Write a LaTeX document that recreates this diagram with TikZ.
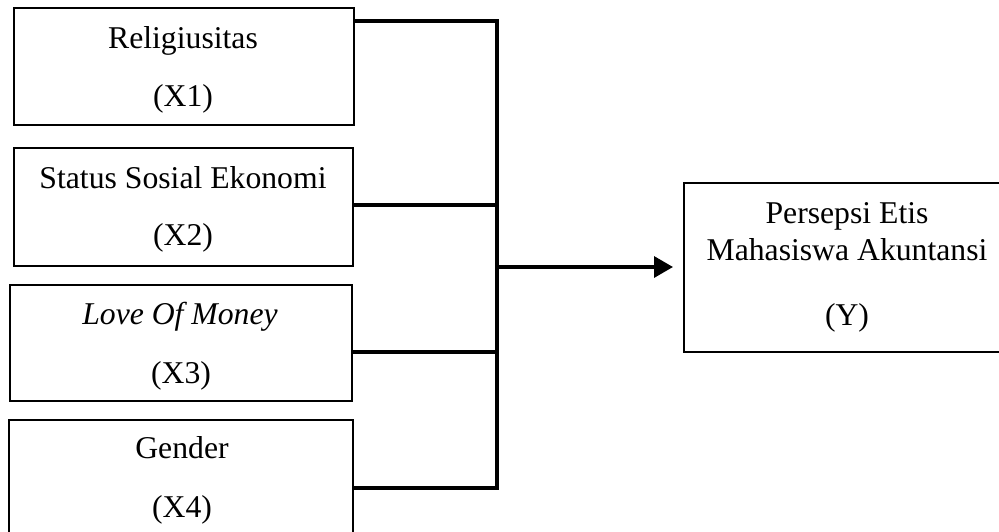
\documentclass[tikz,border=0pt]{standalone}
\usepackage{fontspec}
\setmainfont{Liberation Serif}
\usetikzlibrary{arrows.meta}
\begin{document}
\begin{tikzpicture}[x=1pt,y=-1pt,
  box/.style={draw=black,line width=2.3pt,inner sep=0pt,outer sep=0pt,rectangle},
  txt/.style={anchor=base,inner sep=0pt,font=\fontsize{31.7}{38}\selectfont},
  conn/.style={draw=black,line width=3.4pt}]
\useasboundingbox[fill=white] (0,0) rectangle (999,531);
% boxes
\node[box,minimum width=340pt,minimum height=117pt] (x1) at (184,66.5) {};
\node[box,minimum width=339pt,minimum height=118pt] (x2) at (183.5,207) {};
\node[box,minimum width=342pt,minimum height=116pt] (x3) at (181,343) {};
\node[box,minimum width=344pt,minimum height=125pt] (x4) at (181,482.5) {};
\node[box,minimum width=326pt,minimum height=169pt] (y) at (847,267.5) {};
% texts
\node[txt] (t1a) at (183,48) {Religiusitas};
\node[txt] (t1b) at (183,106) {(X1)};
\node[txt] (t2a) at (183,188) {Status Sosial Ekonomi};
\node[txt] (t2b) at (183,245) {(X2)};
\node[txt] (t3a) at (180,324) {\itshape Love Of Money};
\node[txt] (t3b) at (181,383) {(X3)};
\node[txt] (t4a) at (182,458) {Gender};
\node[txt] (t4b) at (182,517) {(X4)};
\node[txt] (tya) at (847,223) {Persepsi Etis};
\node[txt] (tyb) at (847,260) {Mahasiswa Akuntansi};
\node[txt] (tyc) at (847,325) {(Y)};
% junctions
\coordinate (j1) at (497,21);
\coordinate (j2) at (497,205);
\coordinate (j3) at (497,352);
\coordinate (j4) at (497,488);
\coordinate (jm) at (497,267);
\draw[conn] (x1.east|-j1) -- (j1);
\draw[conn] (x2.east|-j2) -- (j2);
\draw[conn] (x3.east|-j3) -- (j3);
\draw[conn] (x4.east|-j4) -- (j4);
\draw[conn,line cap=rect] (j1) -- (j4);
\draw[conn,-{Triangle[length=19pt,width=21pt]},shorten >=11pt] (jm) -- (y.west|-jm);
\end{tikzpicture}
\end{document}
